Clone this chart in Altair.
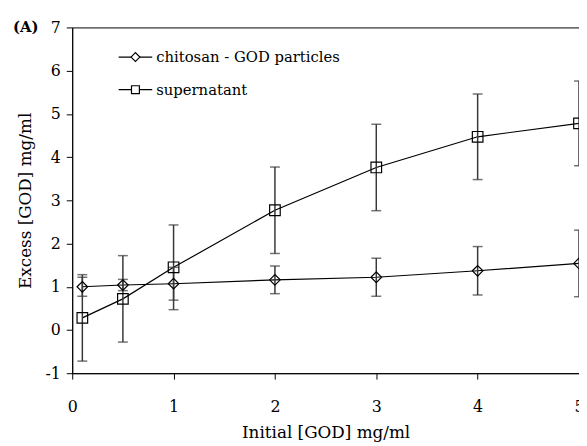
import altair as alt
import pandas as pd

x_vals = [0.1, 0.5, 1, 2, 3, 4, 5]
series_names = ["chitosan - GOD particles", "supernatant"]
chitosan = [1.0, 1.04, 1.07, 1.16, 1.22, 1.37, 1.54]
chitosan_err = [0.22, 0.13, 0.38, 0.32, 0.44, 0.56, 0.77]
supernatant = [0.28, 0.72, 1.45, 2.77, 3.76, 4.47, 4.78]
supernatant_err = [1.0, 1.0, 0.98, 1.0, 1.0, 0.99, 0.98]
shapes = ["diamond", "square"]

rows = []
for name, vals, errs in [(series_names[0], chitosan, chitosan_err),
                         (series_names[1], supernatant, supernatant_err)]:
    for xv, v, e in zip(x_vals, vals, errs):
        rows.append({"series": name, "x": xv, "y": v, "lo": v - e, "hi": v + e})
df = pd.DataFrame(rows)

FONT = "DejaVu Serif"

xs = alt.Scale(domain=[0, 5], nice=False)
ys = alt.Scale(domain=[-1, 7], nice=False)
shape_scale = alt.Scale(domain=series_names, range=shapes)

base = alt.Chart(df)

x_enc = alt.X("x:Q", scale=xs, title="Initial [GOD] mg/ml",
              axis=alt.Axis(values=[0, 1, 2, 3, 4, 5], labelFlush=False,
                            labelExpr="'' + datum.value"))
y_enc = alt.Y("y:Q", scale=ys, title="Excess [GOD] mg/ml",
              axis=alt.Axis(values=list(range(-1, 8)),
                            labelExpr="'' + datum.value"))

lines = base.mark_line(color="black", strokeWidth=1.2).encode(
    x=x_enc, y=y_enc, detail="series:N")

errs = base.mark_errorbar(
    ticks={"size": 10, "thickness": 1.5, "color": "#383838"},
    rule={"strokeWidth": 1.5, "color": "#383838"},
).encode(x=alt.X("x:Q", scale=xs, title="Initial [GOD] mg/ml"),
         y=alt.Y("lo:Q", scale=ys, title="Excess [GOD] mg/ml"), y2="hi:Q")

points = base.mark_point(filled=False, color="black", strokeWidth=1.2, size=115, opacity=1).encode(
    x=alt.X("x:Q", scale=xs, title="Initial [GOD] mg/ml"),
    y=alt.Y("y:Q", scale=ys, title="Excess [GOD] mg/ml"),
    shape=alt.Shape("series:N", scale=shape_scale, legend=None),
)

# manual legend
legend_layers = []
legend_sizes = [80, 64]
for i, (name, shp) in enumerate(zip(series_names, shapes)):
    ld = pd.DataFrame({"label": [name]})
    yy = 30 + i * 33
    legend_layers.append(alt.Chart(ld).mark_rule(color="black", strokeWidth=1.2).encode(
        x=alt.value(47), x2=alt.value(81), y=alt.value(yy)))
    legend_layers.append(alt.Chart(ld).mark_point(shape=shp, filled=True, fill="white",
                                                  stroke="black", strokeWidth=1.2,
                                                  size=legend_sizes[i], opacity=1).encode(
        x=alt.value(64), y=alt.value(yy)))
    legend_layers.append(alt.Chart(ld).mark_text(align="left", baseline="middle", font=FONT,
                                                 fontSize=15, color="black").encode(
        x=alt.value(85), y=alt.value(yy), text="label:N"))

panel_label = alt.Chart(pd.DataFrame({"t": ["(A)"]})).mark_text(
    align="left", baseline="middle", font=FONT, fontSize=15, fontWeight="bold", color="black"
).encode(x=alt.value(-60), y=alt.value(0), text="t:N")

chart = alt.layer(lines, errs, points, *legend_layers, panel_label).properties(
    width=513, height=350,
    autosize=alt.AutoSizeParams(type="none"),
    padding={"left": 65, "top": 17, "right": 0, "bottom": 70},
).configure(background="white").configure_view(
    stroke="black", strokeWidth=1
).configure_axis(
    grid=False, domainColor="black", tickColor="black", labelFont=FONT,
    titleFont=FONT, labelFontSize=16, titleFontSize=17, labelColor="black",
    titleColor="black", titleFontWeight="normal",
).configure_axisX(
    tickSize=6, labelPadding=20, titlePadding=10,
).configure_axisY(
    tickSize=6, labelPadding=6, titlePadding=11,
)

chart.save("out.html", embed_options={"renderer": "svg", "actions": False})
